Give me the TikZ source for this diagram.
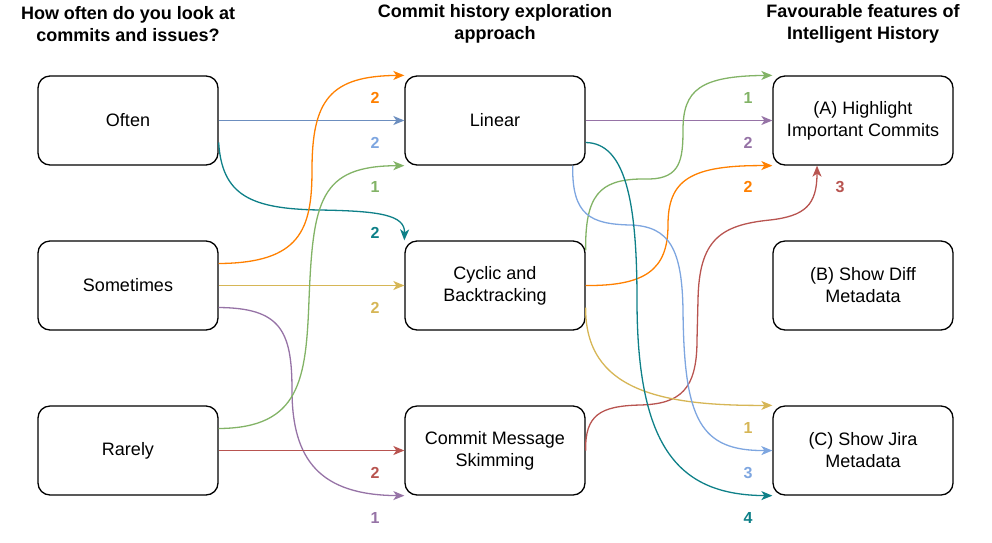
\documentclass[tikz,border=0pt]{standalone}
\usepackage{fontspec}
\setmainfont{Liberation Sans}
\usetikzlibrary{arrows.meta}
\definecolor{corng}{HTML}{FF8000}
\definecolor{cblue}{HTML}{6C8EBF}
\definecolor{clblue}{HTML}{7EA6E0}
\definecolor{cgreen}{HTML}{82B366}
\definecolor{cteal}{HTML}{0E8088}
\definecolor{cyell}{HTML}{D6B656}
\definecolor{cpurp}{HTML}{9673A6}
\definecolor{cred}{HTML}{B85450}
\tikzset{
  box/.style={draw=black, line width=1.3pt, rounded corners=12pt, minimum width=180pt, minimum height=89pt, align=center, inner sep=0pt, font=\fontsize{18}{22}\selectfont},
  ttl/.style={align=center, font=\bfseries\fontsize{18}{22}\selectfont, inner sep=0pt},
  lbl/.style={font=\bfseries\fontsize{16}{18}\selectfont, inner sep=0pt},
  conn/.style={line width=1.3pt, -{Stealth[length=11pt,width=9pt,inset=3pt]}},
}
\begin{document}
\begin{tikzpicture}[x=1pt,y=-1pt]
\useasboundingbox (0,0) rectangle (992,542);
% titles
\node[ttl] (t1) at (128,24) {How often do you look at\\commits and issues?};
\node[ttl] (t2) at (495,24) {Commit history exploration\\approach};
\node[ttl] (t3) at (863,24) {Favourable features of\\Intelligent History};
% column 1
\node[box] (often) at (128,120.5) {Often};
\node[box] (some) at (128,285.5) {Sometimes};
\node[box] (rare) at (128,450.5) {Rarely};
% column 2
\node[box] (linear) at (495,120.5) {Linear};
\node[box] (cyclic) at (495,285.5) {Cyclic and\\Backtracking};
\node[box] (commit) at (495,450.5) {Commit Message\\Skimming};
% column 3
\node[box] (fa) at (863,120.5) {(A) Highlight\\Important Commits};
\node[box] (fb) at (863,285.5) {(B) Show Diff\\Metadata};
\node[box] (fc) at (863,450.5) {(C) Show Jira\\Metadata};
% left connectors
\draw[conn, cblue] (often.east) -- (linear.west);
\draw[conn, cteal] ([yshift=-22pt]often.east) .. controls (222,195) and (250,209) .. (320,210) .. controls (380,211) and (405,215) .. (cyclic.north west);
\draw[conn, corng] ([yshift=22pt]some.east) .. controls (300,263) and (312,230) .. (312,170) .. controls (312,100) and (330,76) .. (linear.north west);
\draw[conn, cyell] (some.east) -- (cyclic.west);
\draw[conn, cpurp] ([yshift=-22pt]some.east) .. controls (280,308) and (292,330) .. (292,390) .. controls (292,460) and (320,495) .. (commit.south west);
\draw[conn, cgreen] ([yshift=22pt]rare.east) .. controls (300,428) and (306,380) .. (309,300) .. controls (313,200) and (320,166) .. (linear.south west);
\draw[conn, cred] (rare.east) -- (commit.west);
% right connectors
\draw[conn, cpurp] (linear.east) -- (fa.west);
\draw[conn, cgreen] ([yshift=-10pt]cyclic.north east) .. controls (585,195) and (600,180) .. (640,179) -- (650,179) .. controls (680,178) and (683,160) .. (683,130) .. controls (683,90) and (700,76) .. (fa.north west);
\draw[conn, corng] (cyclic.east) .. controls (645,286) and (668,270) .. (668,225) .. controls (668,180) and (690,165) .. (fa.south west);
\draw[conn, cred] (commit.east) .. controls (585,415) and (600,406) .. (640,405) .. controls (680,404) and (697,390) .. (697,340) -- (698,300) .. controls (699,240) and (720,225) .. (770,220) .. controls (805,216) and (817,205) .. ([xshift=-46pt]fa.south);
\draw[conn, cyell] ([yshift=-22pt]cyclic.east) .. controls (585,390) and (660,406) .. (fc.north west);
\draw[conn, clblue] ([xshift=-13pt]linear.south east) .. controls (572,215) and (590,224) .. (630,225) .. controls (670,226) and (682,250) .. (683,310) .. controls (684,420) and (700,451) .. (fc.west);
\draw[conn, cteal] ([yshift=-22pt]linear.east) .. controls (625,143) and (637,200) .. (637,300) .. controls (637,450) and (680,495) .. (fc.south west);
% labels left
\node[lbl, text=corng] (la1) at (375,98) {2};
\node[lbl, text=clblue] (la2) at (375,143) {2};
\node[lbl, text=cgreen] (la3) at (375,187) {1};
\node[lbl, text=cteal] (la4) at (375,233) {2};
\node[lbl, text=cyell] (la5) at (375,308) {2};
\node[lbl, text=cred] (la6) at (375,473) {2};
\node[lbl, text=cpurp] (la7) at (375,518) {1};
% labels right
\node[lbl, text=cgreen] (lb1) at (748,98) {1};
\node[lbl, text=cpurp] (lb2) at (748,143) {2};
\node[lbl, text=corng] (lb3) at (748,187) {2};
\node[lbl, text=cred] (lb4) at (840,187) {3};
\node[lbl, text=cyell] (lb5) at (748,428) {1};
\node[lbl, text=clblue] (lb6) at (748,473) {3};
\node[lbl, text=cteal] (lb7) at (748,518) {4};
\end{tikzpicture}
\end{document}
